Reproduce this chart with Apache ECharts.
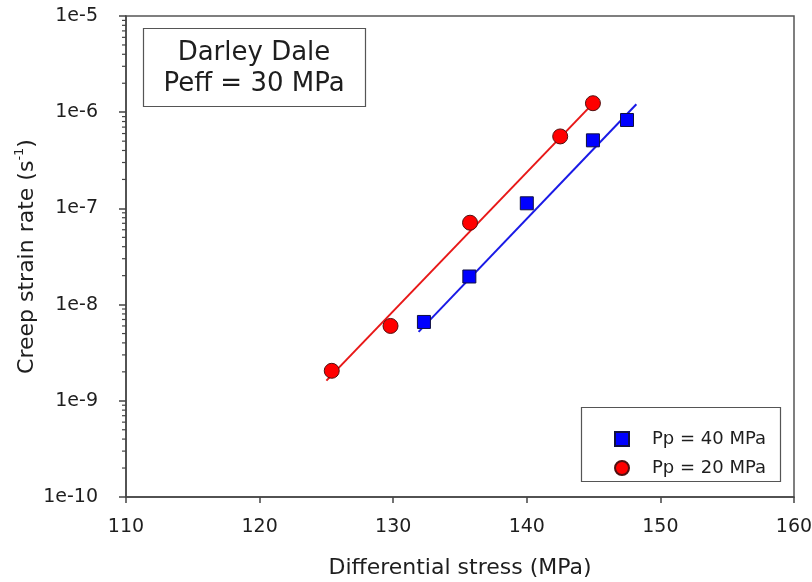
<!DOCTYPE html>
<html>
<head>
<meta charset="utf-8">
<script src="https://cdn.jsdelivr.net/npm/echarts@6/dist/echarts.min.js"></script>
<style>html,body{margin:0;padding:0;background:#fff;}#c{width:812px;height:582px;}</style>
</head>
<body>
<div id="c"></div>
<script>
// ---- data ----
const pp40Stress = [132.3, 135.7, 140.0, 144.95, 147.5];
const pp40Rate   = [6.6e-9, 1.96e-8, 1.13e-7, 5.1e-7, 8.3e-7];
const pp20Stress = [125.4, 129.8, 135.75, 142.5, 144.95];
const pp20Rate   = [2.05e-9, 6.0e-9, 7.1e-8, 5.6e-7, 1.24e-6];
const fit40Stress = [131.9, 148.2];
const fit40Rate   = [5.2e-9, 1.21e-6];
const fit20Stress = [125.0, 145.25];
const fit20Rate   = [1.62e-9, 1.36e-6];
const seriesNames = ['Pp = 40 MPa', 'Pp = 20 MPa'];
const xTicks = [110, 120, 130, 140, 150, 160];
const yDecades = [-10, -9, -8, -7, -6, -5];
const boxLines = ['Darley Dale', 'Peff = 30 MPa'];

const zip = (a, b) => a.map((v, i) => [v, b[i]]);
const minorTicks = [];
yDecades.slice(0, -1).forEach(d => { for (let m = 2; m <= 9; m++) minorTicks.push([xTicks[0], m * Math.pow(10, d)]); });

const font = 'DejaVu Sans, Verdana, sans-serif';
const ink = '#1e1e1e';
const chart = echarts.init(document.getElementById('c'), null, {renderer: 'canvas'});
chart.setOption({
  animation: false,
  backgroundColor: '#fff',
  textStyle: {fontFamily: font},
  grid: {left: 126, right: 18, top: 16, bottom: 85, show: true, borderColor: '#555', borderWidth: 1.5,
    backgroundColor: 'transparent', containLabel: false, outerBoundsMode: 'none'},
  xAxis: {
    type: 'value', min: xTicks[0], max: xTicks[xTicks.length - 1], interval: 10,
    name: 'Differential stress (MPa)', nameLocation: 'middle', nameGap: 60, nameMoveOverlap: false,
    nameTextStyle: {fontSize: 22, color: ink, fontFamily: font},
    axisLine: {lineStyle: {color: '#444', width: 1.5}},
    axisTick: {show: true, length: 6, lineStyle: {color: '#444', width: 1.5}},
    axisLabel: {fontSize: 19, color: ink, margin: 21, fontFamily: font},
    splitLine: {show: false}
  },
  yAxis: {
    type: 'log', logBase: 10, min: Math.pow(10, yDecades[0]), max: Math.pow(10, yDecades[yDecades.length - 1]),
    name: 'Creep strain rate (s{sup|-1})', nameLocation: 'middle', nameGap: 85, nameMoveOverlap: false,
    nameTextStyle: {fontSize: 22, color: ink, fontFamily: font, lineHeight: 28,
      rich: {sup: {fontSize: 13, color: ink, fontFamily: font, verticalAlign: 'top', lineHeight: 28, padding: [0, 0, 13, 0]}}},
    axisLine: {lineStyle: {color: '#444', width: 1.5}},
    axisTick: {show: true, length: 7, lineStyle: {color: '#444', width: 1.5}},
    axisLabel: {fontSize: 19, color: ink, margin: 28, fontFamily: font,
      formatter: v => '1e' + Math.round(Math.log10(v))},
    minorTick: {show: false},
    splitLine: {show: false}
  },
  legend: {
    orient: 'vertical', left: 609, top: 425, itemWidth: 14, itemHeight: 14, itemGap: 11,
    data: seriesNames,
    textStyle: {fontSize: 18, color: ink, fontFamily: font, padding: [0, 0, 0, 18]}
  },
  graphic: [
    {type: 'rect', shape: {x: 143.5, y: 28.5, width: 222, height: 78}, style: {fill: '#fff', stroke: '#555', lineWidth: 1.2}, z: 100},
    {type: 'text', x: 254, y: 53, style: {text: boxLines[0], font: '26px ' + font, fill: ink, textAlign: 'center', textVerticalAlign: 'middle'}, z: 101},
    {type: 'text', x: 254, y: 84, style: {text: boxLines[1], font: '26px ' + font, fill: ink, textAlign: 'center', textVerticalAlign: 'middle'}, z: 101},
    {type: 'rect', shape: {x: 581.5, y: 407.5, width: 199, height: 74}, style: {fill: 'transparent', stroke: '#555', lineWidth: 1.2}, z: 100}
  ],
  series: [
    {name: 'fit40', type: 'line', data: zip(fit40Stress, fit40Rate), showSymbol: false, lineStyle: {color: '#1a1ae6', width: 2}, z: 2, silent: true},
    {name: 'fit20', type: 'line', data: zip(fit20Stress, fit20Rate), showSymbol: false, lineStyle: {color: '#e81818', width: 2}, z: 2, silent: true},
    {name: seriesNames[0], type: 'scatter', data: zip(pp40Stress, pp40Rate), symbol: 'rect', symbolSize: 13,
      itemStyle: {color: '#0000ff', borderColor: '#101040', borderWidth: 1, opacity: 1}, z: 5},
    {name: seriesNames[1], type: 'scatter', data: zip(pp20Stress, pp20Rate), symbol: 'circle', symbolSize: 15,
      itemStyle: {color: '#ff0000', borderColor: '#501010', borderWidth: 1, opacity: 1}, z: 5},
    {name: 'minorTicks', type: 'custom', data: minorTicks, clip: false, silent: true, z: 3,
      renderItem: (params, api) => {
        const p = api.coord([api.value(0), api.value(1)]);
        return {type: 'line', shape: {x1: p[0], y1: p[1], x2: p[0] - 4, y2: p[1]}, style: {stroke: '#444', lineWidth: 1.2}};
      }}
  ]
});
</script>
</body>
</html>
